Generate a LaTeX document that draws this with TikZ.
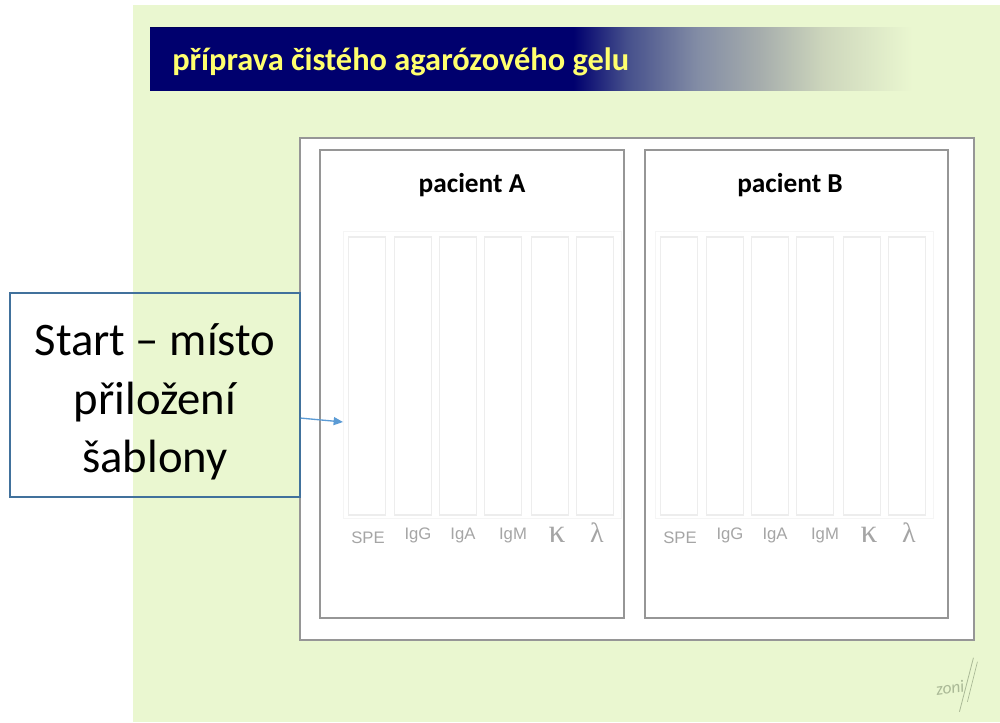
\documentclass[tikz,border=0pt]{standalone}
\usepackage{fontspec}
\setmainfont{Carlito}
\newfontfamily\lanefont{Liberation Sans}
\newfontfamily\greekfont{Liberation Serif}
\usetikzlibrary{arrows.meta}
\definecolor{slidegreen}{RGB}{234,247,208}
\definecolor{navy}{RGB}{0,0,110}
\definecolor{cA}{RGB}{70,80,140}
\definecolor{cB}{RGB}{130,140,165}
\definecolor{cC}{RGB}{165,172,172}
\definecolor{cD}{RGB}{205,214,188}
\definecolor{titleyellow}{RGB}{255,255,110}
\definecolor{calloutblue}{RGB}{65,113,156}
\definecolor{arrowblue}{RGB}{91,155,213}
\definecolor{lanegray}{RGB}{165,165,165}
\definecolor{framegray}{RGB}{150,150,150}
\definecolor{sigcol}{RGB}{170,185,150}
\pgfdeclarehorizontalshading{titlebar}{100bp}{color(0bp)=(navy); color(25bp)=(navy); color(52.5bp)=(navy); color(56bp)=(cA); color(60.5bp)=(cB); color(64.5bp)=(cC); color(68.75bp)=(cD); color(74.5bp)=(slidegreen); color(100bp)=(slidegreen)}
\tikzset{
  frame/.style={draw=framegray, line width=1.2pt, fill=white},
  panel/.style={draw=framegray, line width=1pt, fill=white},
  lanebox/.style={draw=black!7, line width=0.8pt},
  lanelabel/.style={text=lanegray, font=\lanefont\fontsize{12.5}{13}\selectfont, inner sep=0pt},
  greeklabel/.style={text=lanegray, font=\greekfont\fontsize{21}{21}\selectfont, inner sep=0pt},
  paneltitle/.style={font=\bfseries\fontsize{20.5}{24}\selectfont, inner sep=0pt},
}
\begin{document}
\begin{tikzpicture}[x=0.75pt,y=-0.75pt]
\useasboundingbox (0,0) rectangle (1000,722);
\fill[white] (0,0) rectangle (1000,722);
\fill[slidegreen] (133,5) rectangle (1000,722);
% title bar
\shade[shading=titlebar] (150,27) rectangle (920,90);
\draw[navy!80!black, line width=1pt] (150,27.5) -- (560,27.5);
\node[anchor=base west, text=titleyellow, font=\bfseries\fontsize{24.3}{29}\selectfont, inner sep=0pt] (title) at (172,70) {příprava čistého agarózového gelu};
% outer frame and panels
\draw[frame] (300,138) rectangle (974,640);
\draw[panel] (320,150) rectangle (624,618);
\draw[panel] (645,150) rectangle (948,618);
\node[paneltitle] (pA) at (472,185) {pacient A};
\node[paneltitle] (pB) at (790,185) {pacient B};
% lanes
\foreach \off/\p in {0/A,312/B}{
  \draw[draw=black!4, line width=0.6pt] (343+\off,231) rectangle (621+\off,518);
  \foreach \c in {367,413,458,503,550,595}{
    \draw[lanebox] (\c-18.5+\off,237) rectangle (\c+18.5+\off,515);
  }
  \node[lanelabel] (spe\p) at (368+\off,538) {SPE};
  \node[lanelabel] (igg\p) at (418+\off,535) {IgG};
  \node[lanelabel] (iga\p) at (463+\off,535) {IgA};
  \node[lanelabel] (igm\p) at (513+\off,535) {IgM};
  \node[greeklabel, font=\greekfont\fontsize{25}{25}\selectfont] (kap\p) at (557+\off,535) {κ};
  \node[greeklabel] (lam\p) at (597+\off,533) {λ};
}
% callout
\node[draw=calloutblue, line width=1.2pt, minimum width=217.5pt, minimum height=153pt, inner sep=0pt] (callout) at (155,395) {};
\node[align=center, inner sep=0pt, font=\fontsize{35}{44}\selectfont] (calltext) at (155,402) {Start – místo\\přiložení\\šablony};
\coordinate (arrtip) at (343,422);
\draw[arrowblue, line width=1pt, -{Triangle[length=7pt,width=6pt]}] (callout.-9) -- (arrtip);
% signature
\node[text=sigcol, font=\itshape\fontsize{13}{13}\selectfont, inner sep=0pt, rotate=8] (sig) at (950,688) {zoni};
\draw[sigcol, line width=0.6pt] (sig.north east) ++(10,-22) -- ++(-14,54);
\draw[sigcol, line width=0.5pt] (sig.north east) ++(14,-18) -- ++(-10,40);
\end{tikzpicture}
\end{document}
